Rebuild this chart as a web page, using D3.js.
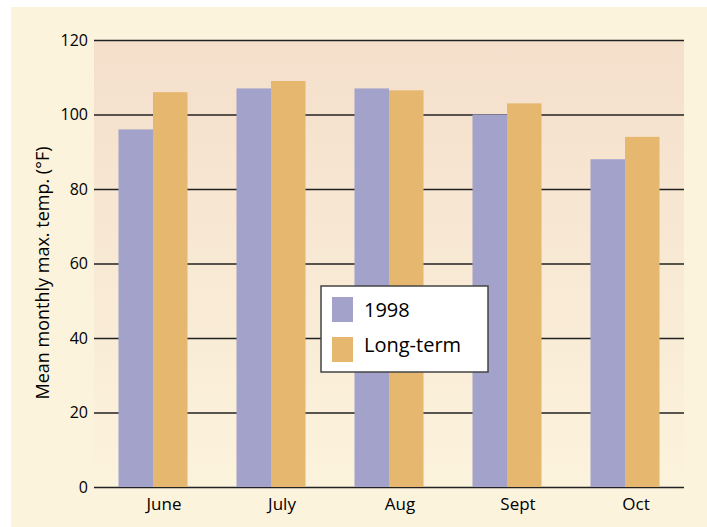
<!DOCTYPE html>
<html>
<head>
<meta charset="utf-8">
<script src="https://cdn.jsdelivr.net/npm/d3@7"></script>
<style>
  body { margin: 0; background: #fff; }
  svg { display: block; }
  svg text { font-family: "Open Sans", "DejaVu Sans", sans-serif; }
</style>
</head>
<body>
<div id="chart"></div>
<script>
// data
var months = ["June", "July", "Aug", "Sept", "Oct"];
var series = ["1998", "Long-term"];
var temp1998 = [96, 107, 107, 100, 88];
var tempLongTerm = [106, 109, 106.5, 103, 94];
var yTicks = [0, 20, 40, 60, 80, 100, 120];

var width = 707,
    height = 527,
    margin = { top: 40, right: 23, bottom: 40, left: 94 };

var innerW = width - margin.left - margin.right,
    innerH = 487 - margin.top;

var svg = d3.select("#chart").append("svg")
    .attr("width", width)
    .attr("height", height);

// cream page background
svg.append("rect")
    .attr("x", 11).attr("y", 7)
    .attr("width", width - 11).attr("height", height - 7)
    .attr("fill", "#fcf3dd");

var defs = svg.append("defs");
var grad = defs.append("linearGradient")
    .attr("id", "plotbg")
    .attr("x1", 0).attr("y1", 0).attr("x2", 0).attr("y2", 1);
grad.append("stop").attr("offset", "0%").attr("stop-color", "#f4dfcb");
grad.append("stop").attr("offset", "100%").attr("stop-color", "#fcf3dd");

var g = svg.append("g")
    .attr("transform", "translate(" + margin.left + "," + margin.top + ")");

g.append("rect")
    .attr("width", innerW).attr("height", innerH)
    .attr("fill", "url(#plotbg)");

var x = d3.scaleBand()
    .domain(months)
    .range([0, innerW])
    .paddingInner(0.415)
    .paddingOuter(0.2075);

var x1 = d3.scaleBand()
    .domain(series)
    .range([0, x.bandwidth()]);

var y = d3.scaleLinear()
    .domain([0, 120])
    .range([innerH, 0]);

var color = d3.scaleOrdinal()
    .domain(series)
    .range(["#a2a2cb", "#e6b86f"]);

// grid / y axis
var yAxis = d3.axisLeft(y)
    .tickValues(yTicks)
    .tickSize(-innerW)
    .tickPadding(6);

var yG = g.append("g").attr("class", "y__axis").call(yAxis)
    .attr("font-size", 16)
    .attr("font-family", null);
yG.select(".domain").remove();
yG.selectAll(".tick line")
    .attr("stroke", "#222")
    .attr("stroke-width", 1.6);
yG.selectAll(".tick text")
    .attr("fill", "#000");

// bars
var rows = months.map(function(m, i) {
    return { month: m, values: [
        { key: "1998", value: temp1998[i] },
        { key: "Long-term", value: tempLongTerm[i] }
    ] };
});

g.append("g").selectAll("g")
    .data(rows)
    .enter().append("g")
    .attr("transform", function(d) { return "translate(" + x(d.month) + ",0)"; })
    .selectAll("rect")
    .data(function(d) { return d.values; })
    .enter().append("rect")
    .attr("x", function(d) { return x1(d.key); })
    .attr("y", function(d) { return y(d.value); })
    .attr("width", x1.bandwidth())
    .attr("height", function(d) { return innerH - y(d.value); })
    .attr("fill", function(d) { return color(d.key); });

// x labels
var xAxis = d3.axisBottom(x).tickSize(0).tickPadding(11);
var xG = g.append("g")
    .attr("transform", "translate(0," + innerH + ")")
    .call(xAxis)
    .attr("font-size", 17)
    .attr("font-family", null);
xG.select(".domain").remove();
xG.selectAll(".tick text")
    .attr("dx", 11)
    .attr("fill", "#000");

// y title
svg.append("text")
    .attr("transform", "translate(49,273) rotate(-90)")
    .attr("text-anchor", "middle")
    .attr("fill", "#000")
    .attr("font-size", 18)
    .text("Mean monthly max. temp. (\u00B0F)");

// legend
var legend = svg.append("g").attr("transform", "translate(321,286)");
legend.append("rect")
    .attr("width", 167).attr("height", 86)
    .attr("fill", "#fff")
    .attr("stroke", "#444")
    .attr("stroke-width", 1.5);

series.forEach(function(s, i) {
    legend.append("rect")
        .attr("x", 11).attr("y", 11 + i * 40)
        .attr("width", 21).attr("height", 25)
        .attr("fill", color(s));
    legend.append("text")
        .attr("x", 43).attr("y", 31 + i * 35)
        .attr("fill", "#000")
        .attr("font-size", 20)
        .text(s);
});
</script>
</body>
</html>
